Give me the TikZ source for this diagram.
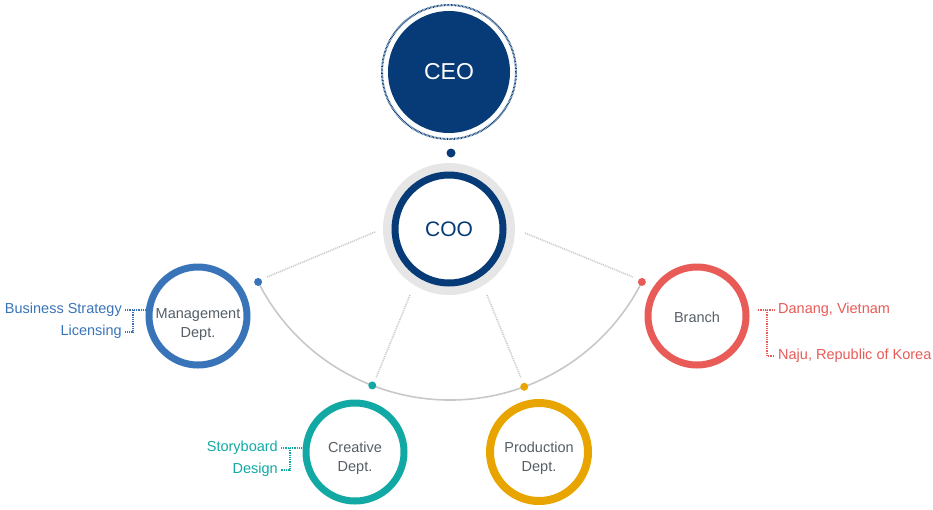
\documentclass[tikz,border=0pt]{standalone}
\usepackage{fontspec}
\setmainfont{Liberation Sans}
\usetikzlibrary{calc}
\definecolor{navy}{HTML}{063B77}
\definecolor{mgmtc}{HTML}{3A74B8}
\definecolor{tealc}{HTML}{12A9A4}
\definecolor{goldc}{HTML}{E8A500}
\definecolor{redc}{HTML}{E85B57}
\definecolor{ringgray}{HTML}{E6E6E6}
\definecolor{arcgray}{HTML}{C8C8C8}
\definecolor{txtc}{HTML}{555E66}
\tikzset{
  dept/.style={circle, line width=7pt, minimum size=98pt, inner sep=0pt},
  depttxt/.style={align=center, text=txtc, inner sep=0pt, font=\fontsize{14.5}{19}\selectfont},
  lbl/.style={inner ysep=1pt, inner xsep=3pt, font=\fontsize{14.5}{17}\selectfont},
  graydots/.style={draw=arcgray, line width=1.6pt, dash pattern=on 1pt off 1pt},
  brk/.style={line width=1.6pt, dash pattern=on 1pt off 0.8pt},
  pdot/.style={circle, inner sep=0pt, minimum size=8pt}
}
\begin{document}
\begin{tikzpicture}[x=1pt,y=-1pt]
\useasboundingbox (0,0) rectangle (933,509);

% CEO
\node[circle, fill=navy, minimum size=122pt, inner sep=0pt, text=white,
  font=\fontsize{23}{23}\selectfont] (ceo) at (449,72) {CEO};
\draw[navy, line width=2pt, dash pattern=on 0.7pt off 0.7pt] (ceo.center) circle[radius=67];
\node[pdot, fill=navy, minimum size=9pt] (ceodot) at (451,153) {};

% COO
\node[circle, fill=ringgray, minimum size=132pt, inner sep=0pt] (cooring) at (449,229) {};
\node[circle, draw=navy, line width=7pt, fill=white, minimum size=108pt, inner sep=0pt,
  text=navy, font=\fontsize{21}{21}\selectfont] (coo) at (449,229) {COO};

% arc
\coordinate (ac) at (450,185);
\draw[arcgray, line width=1.6pt] (ac) ++(153.2:215) arc[start angle=153.2, end angle=26.8, radius=215];
\node[pdot, fill=mgmtc] (mdot) at ($(ac)+(153.2:215)$) {};
\node[pdot, fill=tealc] (cdot) at ($(ac)+(111.2:215)$) {};
\node[pdot, fill=goldc] (pdot1) at ($(ac)+(69.8:215)$) {};
\node[pdot, fill=redc] (bdot) at ($(ac)+(26.8:215)$) {};

% gray dotted spokes
\coordinate (s1a) at (375,232); \coordinate (s1b) at (267,277);
\coordinate (s2a) at (410,295); \coordinate (s2b) at (376,378);
\coordinate (s3a) at (487,295); \coordinate (s3b) at (521,378);
\coordinate (s4a) at (525,233); \coordinate (s4b) at (633,277);
\draw[graydots] (s1a) -- (s1b);
\draw[graydots] (s2a) -- (s2b);
\draw[graydots] (s3a) -- (s3b);
\draw[graydots] (s4a) -- (s4b);

% departments
\node[dept, draw=mgmtc] (mgmt) at (198,316) {};
\node[depttxt] (mgmtt) at (198,325) {Management\\Dept.};
\node[dept, draw=tealc] (crea) at (355,452) {};
\node[depttxt] (creat) at (355,458) {Creative\\Dept.};
\node[dept, draw=goldc, line width=8pt] (prod) at (539,452) {};
\node[depttxt] (prodt) at (539,458) {Production\\Dept.};
\node[dept, draw=redc] (branch) at (697,316) {};
\node[depttxt] (brancht) at (697,317) {Branch};

% management labels
\node[lbl, anchor=east, text=mgmtc] (bs) at (125,310) {Business Strategy};
\node[lbl, anchor=east, text=mgmtc] (lic) at (125,332) {Licensing};
\draw[brk, mgmtc] (bs.east) -- ++(20,0);
\draw[brk, mgmtc] (bs.east) ++(8,0) |- (lic.east);

% creative labels
\node[lbl, anchor=east, text=tealc] (sb) at (281,448) {Storyboard};
\node[lbl, anchor=east, text=tealc] (des) at (281,470) {Design};
\draw[brk, tealc] (sb.east) -- ++(21,0);
\draw[brk, tealc] (sb.east) ++(9,0) |- (des.east);

% branch labels
\node[lbl, anchor=west, text=redc] (dan) at (775,310) {Danang, Vietnam};
\node[lbl, anchor=west, text=redc] (naju) at (775,356) {Naju, Republic of Korea};
\draw[brk, redc] (dan.west) -- ++(-18,0);
\draw[brk, redc] (dan.west) ++(-8,0) |- (naju.west);
\end{tikzpicture}
\end{document}
